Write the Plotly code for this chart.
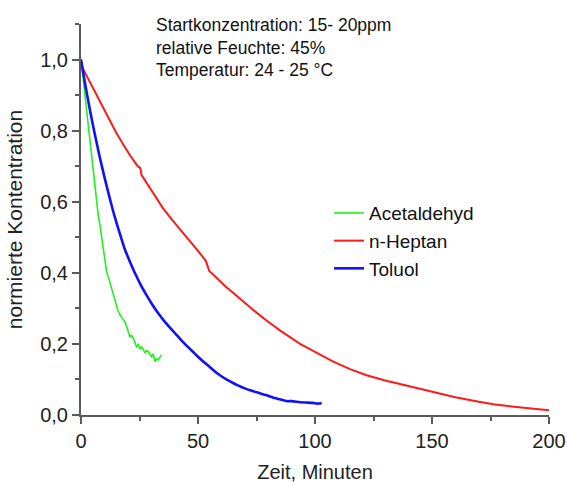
import plotly.graph_objects as go

# Acetaldehyd
t_acet = [0, 1, 2, 3, 4, 5, 6, 6.7, 7.4, 8.1, 9.5, 10.3, 10.9, 11.6, 12.5, 13.8, 14.8, 15.9, 17, 18,
          18.8, 19.5, 20.3, 20.9, 21.5, 22.3, 23, 23.7, 24.5, 25.2, 25.9, 26.6, 27.4, 28.1, 28.8, 29.5,
          30.2, 30.9, 31.6, 32.3, 33, 33.7, 34.4]
v_acet = [1.0, 0.94, 0.88, 0.82, 0.76, 0.70, 0.64, 0.606, 0.56, 0.535, 0.465, 0.42, 0.404, 0.39, 0.37,
          0.343, 0.32, 0.291, 0.278, 0.268, 0.262, 0.249, 0.235, 0.22, 0.224, 0.216, 0.205, 0.192, 0.198,
          0.185, 0.192, 0.184, 0.175, 0.181, 0.178, 0.17, 0.164, 0.172, 0.15, 0.158, 0.155, 0.162, 0.169]

# n-Heptan
t_hept = [0, 3, 6, 9, 12, 15, 18, 21, 24.2, 25.3, 25.9, 26.6, 29, 32, 35, 39.2, 43, 46.3, 50, 53.4,
          54.1, 54.8, 56, 59.1, 62, 65.1, 70, 75, 79.4, 85, 93.6, 100, 107.8, 115, 122, 130, 136.3, 143,
          150, 160, 170, 176.2, 185, 192, 200]
v_hept = [0.985, 0.947, 0.908, 0.868, 0.83, 0.795, 0.762, 0.73, 0.70, 0.695, 0.675, 0.668, 0.64, 0.61,
          0.582, 0.547, 0.518, 0.49, 0.462, 0.433, 0.415, 0.405, 0.398, 0.377, 0.36, 0.343, 0.315, 0.288,
          0.265, 0.238, 0.2, 0.177, 0.15, 0.129, 0.112, 0.097, 0.087, 0.076, 0.064, 0.05, 0.037, 0.03,
          0.023, 0.018, 0.013]

# Toluol
t_tol = [0, 2, 4, 6, 8, 10, 12, 14, 16, 18.8, 21, 23.5, 25.9, 28, 30.5, 33, 35.5, 38, 40.2, 42.5, 45,
         47.5, 50, 52.5, 55, 57.5, 60, 62.5, 65, 67.5, 70, 73, 76.5, 79, 82, 85, 88, 90, 93.6, 96, 99,
         101, 102.9]
v_tol = [1.0, 0.923, 0.852, 0.787, 0.726, 0.67, 0.617, 0.567, 0.523, 0.465, 0.43, 0.393, 0.361, 0.337,
         0.31, 0.286, 0.265, 0.246, 0.23, 0.213, 0.196, 0.18, 0.164, 0.149, 0.135, 0.121, 0.109, 0.099,
         0.09, 0.082, 0.075, 0.068, 0.061, 0.056, 0.049, 0.044, 0.039, 0.039, 0.036, 0.035, 0.034,
         0.032, 0.033]

x_ticks = [0, 50, 100, 150, 200]
y_ticks = [0.0, 0.2, 0.4, 0.6, 0.8, 1.0]
info_lines = ["Startkonzentration: 15- 20ppm", "relative Feuchte: 45%", "Temperatur: 24 - 25 °C"]

FONT = "Arial, Liberation Sans, sans-serif"
AX = "#5a5a5a"

fig = go.Figure()
fig.add_trace(go.Scatter(x=t_acet, y=v_acet, mode="lines", name="Acetaldehyd",
                         line=dict(color="#22ee22", width=1.6)))
fig.add_trace(go.Scatter(x=t_hept, y=v_hept, mode="lines", name="n-Heptan",
                         line=dict(color="#ff1a1a", width=2)))
fig.add_trace(go.Scatter(x=t_tol, y=v_tol, mode="lines", name="Toluol",
                         line=dict(color="#1010ff", width=2.6, shape="spline", smoothing=0.5)))

info_y = [0.997, 0.939, 0.882]
for txt, yy in zip(info_lines, info_y):
    fig.add_annotation(text=txt, xref="paper", yref="paper", x=0.156, y=yy,
                       xanchor="left", yanchor="middle", showarrow=False,
                       font=dict(family=FONT, size=17.5, color="#111"))

fig.update_layout(
    width=567, height=483,
    margin=dict(l=81, r=18, t=24, b=68),
    paper_bgcolor="white", plot_bgcolor="white",
    separators=",.",
    font=dict(family=FONT, size=20, color="#222"),
    showlegend=True,
    legend=dict(x=0.53, y=0.565, xanchor="left", yanchor="top", bgcolor="rgba(0,0,0,0)",
                font=dict(family=FONT, size=19, color="#111"), tracegroupgap=0),
    xaxis=dict(range=[0, 200], tickvals=x_ticks, showgrid=False, zeroline=False, automargin=False,
               showline=True, linecolor=AX, linewidth=2, ticks="outside", ticklen=7,
               tickwidth=2, tickcolor=AX,
               minor=dict(ticks="outside", dtick=25, tick0=0, ticklen=4, tickwidth=2, tickcolor=AX),
               title=dict(text="Zeit, Minuten", standoff=21, font=dict(size=20, family=FONT)),
               tickfont=dict(size=20, family=FONT)),
    yaxis=dict(range=[0, 1.1], tickvals=y_ticks, tickformat=".1f", showgrid=False, zeroline=False,
               automargin=False,
               showline=True, linecolor=AX, linewidth=2, ticks="outside", ticklen=7,
               tickwidth=2, tickcolor=AX,
               minor=dict(ticks="outside", dtick=0.1, tick0=0, ticklen=4, tickwidth=2, tickcolor=AX),
               title=dict(text="normierte Kontentration", standoff=12, font=dict(size=21, family=FONT)),
               tickfont=dict(size=20, family=FONT)),
)

fig.write_html("out.html", config={"displayModeBar": False},
               post_script="document.body.style.margin='0px';")
